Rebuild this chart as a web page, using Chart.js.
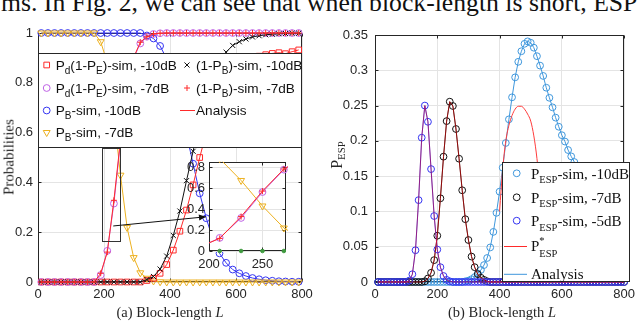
<!DOCTYPE html>
<html><head><meta charset="utf-8">
<script src="https://cdn.jsdelivr.net/npm/chart.js@4.4.1/dist/chart.umd.min.js"></script>
<style>
html,body{margin:0;padding:0;background:#fff;}
#wrap{position:relative;width:640px;height:322px;overflow:hidden;background:#fff;}
canvas{position:absolute;}
.lbl{position:absolute;font-family:"Liberation Serif","Times New Roman",serif;color:#262626;white-space:nowrap;}
.c{transform:translate(-50%,-50%);}
.r{transform:translate(-50%,-50%) rotate(-90deg);}
sub{font-size:0.68em;vertical-align:-0.3em;line-height:0;}
</style></head><body>
<div id="wrap">
<div class="lbl" style="left:1px;top:-10px;font-size:25.7px;line-height:25px;color:#111">ms. In Fig. 2, we can see that when block-length is short, ESP</div>
<canvas id="cL" width="320" height="322" style="left:0;top:0"></canvas>
<canvas id="cR" width="320" height="322" style="left:320px;top:0"></canvas>
<canvas id="cI" width="120" height="125" style="left:175px;top:150px"></canvas>
<div class="lbl c" style="left:170px;top:312px;font-size:14.5px">(a) Block-length <i>L</i></div>
<div class="lbl c" style="left:502px;top:312px;font-size:14.5px">(b) Block-length <i>L</i></div>
<div class="lbl r" style="left:9px;top:157px;font-size:15px">Probabilities</div>
<div class="lbl r" style="left:337px;top:155px;font-size:16px">P<sub>ESP</sub></div>
</div>
<script>
// ---------- data: left panel (a) ----------
const LA = [10,30,50,70,90,110,130,150,170,190,210,230,250,270,290,310,330,350,370,390,410,430,450,470,490,510,530,550,570,590,610,630,650,670,690,710,730,750,770,790];
const pd10  = [0,0,0,0,0,0,0,0,0,0,0,0,0,0,0,0,0.006,0.015,0.035,0.07,0.128,0.204,0.289,0.39,0.5,0.6,0.68,0.75,0.8,0.84,0.865,0.885,0.898,0.907,0.913,0.918,0.921,0.917,0.925,0.932];
const pd7   = [0,0,0,0,0,0,0,0,0,0.028,0.125,0.315,0.562,0.775,0.9,0.958,0.985,0.996,0.999,1,1,1,1,1,1,1,1,1,1,1,1,1,1,1,1,1,1,1,1,1];
const pb10  = [1,1,1,1,1,1,1,1,1,1,1,1,1,1,1,1,0.99,0.978,0.948,0.896,0.813,0.715,0.593,0.475,0.356,0.256,0.17,0.115,0.077,0.05,0.035,0.024,0.016,0.011,0.007,0.005,0.003,0.002,0.001,0.001];
const pb7   = [1,1,1,1,1,1,1,1,1,0.965,0.88,0.672,0.429,0.219,0.098,0.037,0.015,0.004,0.001,0,0,0,0,0,0,0,0,0,0,0,0,0,0,0,0,0,0,0,0,0];
const pbm10 = [0,0,0,0,0,0,0,0,0,0,0,0,0,0,0,0,0.01,0.022,0.052,0.104,0.187,0.285,0.407,0.525,0.644,0.744,0.83,0.885,0.923,0.95,0.965,0.976,0.984,0.989,0.993,0.995,0.997,0.998,0.999,0.999];
const pbm7  = [0,0,0,0,0,0,0,0,0,0.035,0.12,0.328,0.571,0.781,0.902,0.963,0.985,0.996,0.999,1,1,1,1,1,1,1,1,1,1,1,1,1,1,1,1,1,1,1,1,1];
const insetL = [210,230,250,270];
const insetZero = [0,0,0,0];
// ---------- data: right panel (b) ----------
const LR = [10,20,30,40,50,60,70,80,90,100,110,120,130,140,150,160,170,180,190,200,210,220,230,240,250,260,270,280,290,300,310,320,330,340,350,360,370,380,390,400,410,420,430,440,450,460,470,480,490,500,510,520,530,540,550,560,570,580,590,600,610,620,630,640,650,660,670,680,690,700,710,720,730,740,750,760,770,780,790,800];
const esp10 = [0,0,0,0,0,0,0,0,0,0,0,0,0,0,0,0,0,0,0,0,0,0,0,0,0,0,0,0,0.001,0.002,0.004,0.007,0.012,0.017,0.024,0.034,0.049,0.071,0.098,0.128,0.162,0.197,0.2305,0.2617,0.29,0.312,0.327,0.3375,0.341,0.339,0.332,0.32,0.3066,0.292,0.2753,0.261,0.2475,0.2329,0.22,0.208,0.199,0.187,0.178,0.17,0.161,0.152,0.143,0.135,0.127,0.119,0.112,0.105,0.098,0.092,0.086,0.08,0.075,0.07,0.066,0.062];
const esp7  = [0,0,0,0,0,0,0,0,0,0,0,0,0,0,0,0.001,0.005,0.013,0.031,0.0656,0.1186,0.1776,0.228,0.2555,0.2494,0.2168,0.1747,0.13,0.089,0.0595,0.036,0.021,0.011,0.006,0.003,0.001,0,0,0,0,0,0,0,0,0,0,0,0,0,0,0,0,0,0,0,0,0,0,0,0,0,0,0,0,0,0,0,0,0,0,0,0,0,0,0,0,0,0,0,0];
const esp5  = [0,0,0,0,0,0,0,0,0,0,0.002,0.011,0.045,0.116,0.2045,0.25,0.227,0.16,0.0935,0.046,0.021,0.0085,0.003,0.001,0,0,0,0,0,0,0,0,0,0,0,0,0,0,0,0,0,0,0,0,0,0,0,0,0,0,0,0,0,0,0,0,0,0,0,0,0,0,0,0,0,0,0,0,0,0,0,0,0,0,0,0,0,0,0,0];
const pstarL  = [400,410,420,430,440,450,460,470,480,490,500,510,520,530,540,550,560];
const pstar10 = [0.1,0.16,0.2,0.222,0.236,0.245,0.249,0.249,0.245,0.238,0.228,0.207,0.175,0.13,0.07,0.02,0];
// ---------- ticks ----------
const xTicksA = [0,200,400,600,800], xLabelsA = ['0','200','400','600','800'];
const yTicksA = [0,0.2,0.4,0.6,0.8,1], yLabelsA = ['0','0.2','0.4','0.6','0.8','1'];
const yTicksB = [0,0.05,0.1,0.15,0.2,0.25,0.3,0.35], yLabelsB = ['0','0.05','0.1','0.15','0.2','0.25','0.3','0.35'];
const xTicksI = [200,250], xLabelsI = ['200','250'];
const yTicksI = [0,0.2,0.4,0.6,0.8], yLabelsI = ['0','0.2','0.4','0.6','0.8'];

// ---------- styling ----------
const C = {red:'#ff2a2a', violet:'#bf62e6', blue:'#3434f2', orange:'#edb120', black:'#111111', lblue:'#3f97dc', green:'#3f9a3f', axis:'#262626', grid:'#e4e4e4'};
const SANS = '"Liberation Sans", Arial, Helvetica, sans-serif';
const SERIF = '"Liberation Serif", "Times New Roman", serif';
const tickFont = {family: SANS, size: 13};

const pts = (xs, ys) => xs.map((x, i) => ({x: x, y: ys[i]}));
function series(xs, ys, color, style, r, extra) {
  return Object.assign({data: pts(xs, ys), borderColor: color, borderWidth: 1, pointStyle: style,
    pointRadius: r, pointHoverRadius: r, pointBorderColor: color, pointBackgroundColor: 'rgba(0,0,0,0)',
    pointBorderWidth: 1, tension: 0, clip: false, fill: false}, extra || {});
}
function scale(axis, min, max, ticks, labels, size, pad) {
  return {type: 'linear', min: min, max: max,
    afterBuildTicks: s => { s.ticks = ticks.map(v => ({value: v})); },
    afterFit: s => { if (axis === 'x') s.height = size; else s.width = size; },
    grid: {color: C.grid, drawTicks: false, lineWidth: 1},
    border: {display: false},
    ticks: {font: tickFont, color: C.axis, padding: pad, maxRotation: 0, autoSkip: false,
      callback: (v, i) => labels[i]}};
}
function framePlugin(xt, yt, tl) {
  return {id: 'frame', beforeDatasetsDraw(chart) {
    const {ctx, chartArea: a, scales} = chart;
    ctx.save(); ctx.strokeStyle = C.axis; ctx.lineWidth = 1;
    const L = Math.round(a.left) + 0.5, R = Math.round(a.right) - 0.5, T = Math.round(a.top) + 0.5, B = Math.round(a.bottom) - 0.5;
    ctx.strokeRect(L, T, R - L, B - T);
    ctx.beginPath();
    xt.forEach(v => { const p = Math.round(scales.x.getPixelForValue(v)) + 0.5;
      ctx.moveTo(p, B); ctx.lineTo(p, B - tl); ctx.moveTo(p, T); ctx.lineTo(p, T + tl); });
    yt.forEach(v => { const p = Math.round(scales.y.getPixelForValue(v)) + 0.5;
      ctx.moveTo(L, p); ctx.lineTo(L + tl, p); ctx.moveTo(R, p); ctx.lineTo(R - tl, p); });
    ctx.stroke(); ctx.restore();
  }};
}
function marker(ctx, style, x, y, r, color) {
  ctx.save(); ctx.strokeStyle = color; ctx.lineWidth = 1; ctx.beginPath();
  if (style === 'circle') { ctx.arc(x, y, r, 0, Math.PI * 2); }
  else if (style === 'rect') { const s = r * Math.SQRT1_2; ctx.rect(x - s, y - s, 2 * s, 2 * s); }
  else if (style === 'crossRot') { const s = r * Math.SQRT1_2; ctx.moveTo(x - s, y - s); ctx.lineTo(x + s, y + s); ctx.moveTo(x - s, y + s); ctx.lineTo(x + s, y - s); }
  else if (style === 'cross') { ctx.moveTo(x - r, y); ctx.lineTo(x + r, y); ctx.moveTo(x, y - r); ctx.lineTo(x, y + r); }
  else if (style === 'tridown') { ctx.moveTo(x, y + r); ctx.lineTo(x - r * 0.866, y - r * 0.5); ctx.lineTo(x + r * 0.866, y - r * 0.5); ctx.closePath(); }
  ctx.stroke(); ctx.restore();
}
// parts: [text, mode] with mode 0 normal, 1 subscript, 2 sup+sub pair
function rich(ctx, x, yc, parts, size, fam, color, subScale) {
  ctx.save(); ctx.fillStyle = color; ctx.textBaseline = 'alphabetic';
  const base = yc + size * 0.36; let cx = x; const ss = size * (subScale || 0.7);
  parts.forEach(p => {
    if (p[1] === 0) { ctx.font = size + 'px ' + fam; ctx.fillText(p[0], cx, base); cx += ctx.measureText(p[0]).width; }
    else if (p[1] === 1) { ctx.font = ss + 'px ' + fam; ctx.fillText(p[0], cx, base + size * 0.3); cx += ctx.measureText(p[0]).width; }
    else { ctx.font = ss + 'px ' + fam; ctx.fillText(p[0], cx, base - size * 0.45); const w1 = ctx.measureText(p[0]).width;
      ctx.fillText(p[2], cx, base + size * 0.38); cx += Math.max(w1, ctx.measureText(p[2]).width); }
  });
  ctx.restore();
}

// ---------- left chart ----------
const zoomBox = {x0: 193, x1: 248, y0: 0.162, y1: 0.537};
const arrow = {x0: 228, y0: 0.225, x1: 509, y1: 0.262};
const leftDecor = {id: 'leftDecor',
  afterDatasetsDraw(chart) {
    const {ctx, scales: {x, y}} = chart;
    ctx.save(); ctx.strokeStyle = '#333'; ctx.lineWidth = 1;
    const rx0 = x.getPixelForValue(zoomBox.x0), rx1 = x.getPixelForValue(zoomBox.x1);
    const ry0 = y.getPixelForValue(zoomBox.y1), ry1 = y.getPixelForValue(zoomBox.y0);
    ctx.strokeRect(Math.round(rx0) + 0.5, Math.round(ry0) + 0.5, Math.round(rx1 - rx0), Math.round(ry1 - ry0));
    const ax0 = x.getPixelForValue(arrow.x0), ay0 = y.getPixelForValue(arrow.y0);
    const ax1 = x.getPixelForValue(arrow.x1), ay1 = y.getPixelForValue(arrow.y1);
    ctx.strokeStyle = '#111'; ctx.beginPath(); ctx.moveTo(ax0, ay0); ctx.lineTo(ax1, ay1); ctx.stroke();
    const ang = Math.atan2(ay1 - ay0, ax1 - ax0), hl = 7, hw = 3;
    ctx.fillStyle = '#111'; ctx.beginPath(); ctx.moveTo(ax1, ay1);
    ctx.lineTo(ax1 - hl * Math.cos(ang) + hw * Math.sin(ang), ay1 - hl * Math.sin(ang) - hw * Math.cos(ang));
    ctx.lineTo(ax1 - hl * Math.cos(ang) - hw * Math.sin(ang), ay1 - hl * Math.sin(ang) + hw * Math.cos(ang));
    ctx.closePath(); ctx.fill(); ctx.restore();
  },
  afterDraw(chart) {
    const ctx = chart.ctx; ctx.save();
    ctx.fillStyle = '#fff'; ctx.fillRect(38, 53, 264, 95);
    ctx.strokeStyle = C.axis; ctx.lineWidth = 1; ctx.strokeRect(38.5, 53.5, 263, 94);
    ctx.restore();
    const fs = 13.6, rows = [65, 88, 110.5, 132.5];
    const e = [
      [46.7, rows[0], 'rect', C.red, 4, [['P',0],['d',1],['(1-P',0],['E',1],[')-sim, -10dB',0]]],
      [46.7, rows[1], 'circle', C.violet, 3.4, [['P',0],['d',1],['(1-P',0],['E',1],[')-sim, -7dB',0]]],
      [46.7, rows[2], 'circle', C.blue, 3.4, [['P',0],['B',1],['-sim, -10dB',0]]],
      [46.7, rows[3], 'tridown', C.orange, 4, [['P',0],['B',1],['-sim, -7dB',0]]],
      [187, rows[0], 'crossRot', C.black, 3.6, [['(1-P',0],['B',1],[')-sim, -10dB',0]]],
      [187, rows[1], 'cross', C.red, 3, [['(1-P',0],['B',1],[')-sim, -7dB',0]]],
      [187, rows[2], 'line', C.red, 0, [['Analysis',0]]]
    ];
    e.forEach(it => {
      if (it[2] === 'line') { ctx.save(); ctx.strokeStyle = it[3]; ctx.lineWidth = 1; ctx.beginPath(); ctx.moveTo(180, it[1]); ctx.lineTo(195, it[1]); ctx.stroke(); ctx.restore(); }
      else marker(ctx, it[2], it[0], it[1], it[4], it[3]);
      rich(ctx, it[0] + 9, it[1], it[5], fs, SANS, '#111', 0.74);
    });
  }};

new Chart(document.getElementById('cL'), {
  type: 'line',
  data: {datasets: [
    series(LA, pbm7, C.red, 'cross', 3),
    series(LA, pbm10, C.black, 'crossRot', 3.6),
    series(LA, pd7, C.violet, 'circle', 3.4),
    series(LA, pd10, C.red, 'rect', 4),
    series(LA, pb7, C.orange, 'triangle', 4, {pointRotation: 180}),
    series(LA, pb10, C.blue, 'circle', 3.4)
  ]},
  options: {responsive: false, animation: false, devicePixelRatio: 1, events: [],
    layout: {padding: {left: 0, top: 33, right: 18, bottom: 0}},
    plugins: {legend: {display: false}, tooltip: {enabled: false}},
    scales: {x: scale('x', 0, 800, xTicksA, xLabelsA, 40, 5), y: scale('y', 0, 1, yTicksA, yLabelsA, 38, 5)}},
  plugins: [framePlugin(xTicksA, yTicksA, 3), leftDecor]
});

// ---------- inset chart ----------
const insetBg = {id: 'insetBg', beforeDraw(chart) {
  const {ctx, chartArea: a} = chart; ctx.save(); ctx.fillStyle = '#fff';
  ctx.fillRect(a.left, a.top, a.right - a.left, a.bottom - a.top); ctx.restore(); }};
const ic = {left: 0, top: 0, right: 2, bottom: 5};
new Chart(document.getElementById('cI'), {
  type: 'line',
  data: {datasets: [
    series(insetL, insetZero, C.green, 'circle', 1.8, {showLine: false, pointBackgroundColor: C.green, clip: ic}),
    series(LA, pbm7, C.red, 'cross', 3, {clip: ic}),
    series(LA, pd7, C.violet, 'circle', 3.4, {clip: ic}),
    series(LA, pb7, C.orange, 'triangle', 4, {pointRotation: 180, clip: ic})
  ]},
  options: {responsive: false, animation: false, devicePixelRatio: 1, events: [],
    layout: {padding: {left: 0, top: 11, right: 9, bottom: 0}},
    plugins: {legend: {display: false}, tooltip: {enabled: false}},
    scales: {x: scale('x', 200, 272, xTicksI, xLabelsI, 24, 6), y: scale('y', 0, 0.85, yTicksI, yLabelsI, 34, 4)}},
  plugins: [insetBg, framePlugin(xTicksI, yTicksI, 3)]
});

// ---------- right chart ----------
const rightLegend = {id: 'rightLegend', afterDraw(chart) {
  const ctx = chart.ctx; ctx.save();
  ctx.fillStyle = '#fff'; ctx.fillRect(182, 162, 128, 120);
  ctx.strokeStyle = C.axis; ctx.lineWidth = 1; ctx.strokeRect(182.5, 162.5, 127, 119);
  ctx.restore();
  const fs = 15, mx = 196.7, tx = 211;
  const rows = [
    [173.3, 'circle', C.lblue, [['P',0],['ESP',1],['-sim, -10dB',0]]],
    [197.3, 'circle', C.black, [['P',0],['ESP',1],['-sim, -7dB',0]]],
    [220.7, 'circle', C.blue, [['P',0],['ESP',1],['-sim, -5dB',0]]],
    [245.5, 'line', C.red, [['P',0],['*',2,'ESP']]],
    [273.3, 'line', C.lblue, [['Analysis',0]]]
  ];
  rows.forEach(r => {
    if (r[1] === 'line') { ctx.save(); ctx.strokeStyle = r[2]; ctx.lineWidth = 1; ctx.beginPath(); ctx.moveTo(184, r[0] + 1); ctx.lineTo(207, r[0] + 1); ctx.stroke(); ctx.restore(); }
    else marker(ctx, 'circle', mx, r[0], 3.4, r[2]);
    rich(ctx, tx, r[0], r[3], fs, SERIF, '#111');
  });
}};
new Chart(document.getElementById('cR'), {
  type: 'line',
  data: {datasets: [
    series(LR, esp7, 'rgba(255,0,0,0.55)', 'circle', 0),
    series(LR, esp5, 'rgba(255,0,0,0.45)', 'circle', 0),
    series(LR, esp5, C.blue, 'circle', 3.4),
    series(LR, esp7, C.black, 'circle', 3.4),
    series(pstarL, pstar10, '#ff3b3b', 'circle', 0, {cubicInterpolationMode: 'monotone'}),
    series(LR, esp10, C.lblue, 'circle', 3.4)
  ]},
  options: {responsive: false, animation: false, devicePixelRatio: 1, events: [],
    layout: {padding: {left: 0, top: 35, right: 10, bottom: 0}},
    plugins: {legend: {display: false}, tooltip: {enabled: false}},
    scales: {x: scale('x', 0, 800, xTicksA, xLabelsA, 40, 5), y: scale('y', 0, 0.35, yTicksB, yLabelsB, 55, 7)}},
  plugins: [framePlugin(xTicksA, yTicksB, 3), rightLegend]
});
</script>
</body></html>
